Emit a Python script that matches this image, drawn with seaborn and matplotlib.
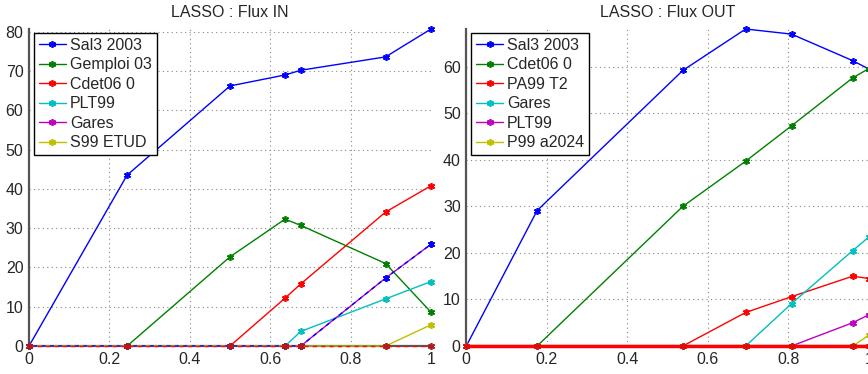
import numpy as np
import pandas as pd
import matplotlib
matplotlib.use("Agg")
import matplotlib.pyplot as plt
import seaborn as sns

sns.set_style("white")
plt.rcParams["font.family"] = ["Liberation Sans", "DejaVu Sans"]

# ---- Flux IN : LASSO regularisation path ----
x_in = [0.0, 0.244, 0.50, 0.637, 0.676, 0.887, 1.0]
in_sal3 = [0.0, 43.5, 66.2, 69.0, 70.2, 73.6, 80.7]
in_gemploi = [0.0, 0.0, 22.7, 32.3, 30.7, 21.0, 8.6]
in_cdet = [0.0, 0.0, 0.0, 12.2, 15.8, 34.1, 40.8]
in_plt = [0.0, 0.0, 0.0, 0.0, 3.7, 12.0, 16.4]
in_gares = [0.0, 0.0, 0.0, 0.0, 0.0, 17.3, 25.9]
in_s99 = [0.0, 0.0, 0.0, 0.0, 0.0, 0.0, 5.4]
in_other_blue = [0.0, 0.0, 0.0, 0.0, 0.0, 17.3, 25.9]
in_other_red = [0.0, 0.0, 0.0, 0.0, 0.0, 0.0, 0.0]
in_labels = ["Sal3 2003", "Gemploi 03", "Cdet06 0", "PLT99", "Gares", "S99 ETUD"]

# ---- Flux OUT : LASSO regularisation path ----
x_out = [0.0, 0.176, 0.538, 0.694, 0.808, 0.960, 1.0]
out_sal3 = [0.0, 29.1, 59.2, 68.1, 67.0, 61.3, 59.5]
out_cdet = [0.0, 0.0, 30.0, 39.7, 47.3, 57.6, 59.6]
out_pa99 = [0.0, 0.0, 0.0, 7.2, 10.6, 15.0, 14.5]
out_gares = [0.0, 0.0, 0.0, 0.0, 9.1, 20.5, 23.4]
out_plt = [0.0, 0.0, 0.0, 0.0, 0.0, 5.0, 6.7]
out_p99 = [0.0, 0.0, 0.0, 0.0, 0.0, 0.0, 2.3]
out_other = [0.0, 0.0, 0.0, 0.0, 0.0, 0.0, 0.0]
out_labels = ["Sal3 2003", "Cdet06 0", "PA99 T2", "Gares", "PLT99", "P99 a2024"]

# classic colour order
colors = [(0, 0, 1), (0, 0.5, 0), (1, 0, 0), (0, 0.75, 0.75),
          (0.75, 0, 0.75), (0.75, 0.75, 0)]

W, H = 868, 374
fig = plt.figure(figsize=(W / 100, H / 100), dpi=100)
ax1 = fig.add_axes([29 / W, 28 / H, 402 / W, 317 / H])
ax2 = fig.add_axes([466.3 / W, 28 / H, 402.5 / W, 317 / H])


def path(ax, x, y, color, label=None, lw=1.0, mcolor=None, **kw):
    mc = color if mcolor is None else mcolor
    sns.lineplot(x=x, y=y, ax=ax, color=color, lw=lw, sort=False,
                 estimator=None, label=label, legend=False,
                 marker=(6, 2, 0), markersize=5, markeredgewidth=1.2,
                 markeredgecolor=mc, markerfacecolor=mc, zorder=3, **kw)


def style(ax, title, yticks, ymax):
    ax.set_xlim(0, 1)
    ax.set_ylim(0, ymax)
    ax.set_xticks([0, 0.2, 0.4, 0.6, 0.8, 1.0])
    ax.set_xticklabels(["0", "0.2", "0.4", "0.6", "0.8", "1"])
    ax.set_yticks(yticks)
    ax.set_yticklabels([str(v) for v in yticks])
    ax.tick_params(direction="in", length=4, width=0.8, color="#444444",
                   labelsize=11.5, pad=4)
    ax.grid(True, linestyle=(0, (1, 3)), color="#888888", linewidth=0.8)
    ax.set_axisbelow(True)
    for s in ["top", "right"]:
        ax.spines[s].set_visible(False)
    for s in ["left", "bottom"]:
        ax.spines[s].set_color("#555555")
        ax.spines[s].set_linewidth(1.6)
        ax.spines[s].set_zorder(2)
    ax.set_title(title, fontsize=11.5, pad=9)
    ax.set_xlabel("")
    ax.set_ylabel("")


def legend(ax, handles, labels):
    bb = ax.get_position()
    leg = ax.legend(handles, labels, loc="upper left",
                    bbox_to_anchor=(5 / (bb.width * W), 1 - 4 / (bb.height * H)),
                    borderaxespad=0, frameon=True, fancybox=False,
                    edgecolor="black", framealpha=1, fontsize=11.5,
                    handlelength=1.7, handletextpad=0.25, labelspacing=0.28,
                    borderpad=0.3)
    leg.get_frame().set_linewidth(1.0)
    leg.set_zorder(5)


# Flux IN
in_series = [in_sal3, in_gemploi, in_cdet, in_plt, in_gares, in_s99]
for y, c, lab in zip(in_series, colors, in_labels):
    path(ax1, x_in, y, c, lab)
path(ax1, x_in, in_other_blue, (0, 0, 1), linestyle=(3, (3, 3)))
path(ax1, x_in, in_other_red, (0.95, 0.05, 0.05), mcolor=(0.7, 0.1, 0.1),
     linestyle=(0, (3, 3)))
ymax_in = max(max(s) for s in in_series)
style(ax1, "LASSO : Flux IN", list(range(0, 81, 10)), ymax_in)
h, _ = ax1.get_legend_handles_labels()
legend(ax1, h[:6], in_labels)

# Flux OUT
out_series = [out_sal3, out_cdet, out_pa99, out_gares, out_plt, out_p99]
for y, c, lab in zip(out_series, colors, out_labels):
    path(ax2, x_out, y, c, lab)
path(ax2, x_out, out_other, (1, 0, 0), lw=2.5, mcolor=(0.85, 0.05, 0.05))
ymax_out = max(max(s) for s in out_series)
style(ax2, "LASSO : Flux OUT", list(range(0, 61, 10)), ymax_out)
h, _ = ax2.get_legend_handles_labels()
legend(ax2, h[:6], out_labels)

for ax in (ax1, ax2):
    for line in ax.get_lines():
        line.set_clip_on(False)

fig.savefig("out.png", dpi=100)
